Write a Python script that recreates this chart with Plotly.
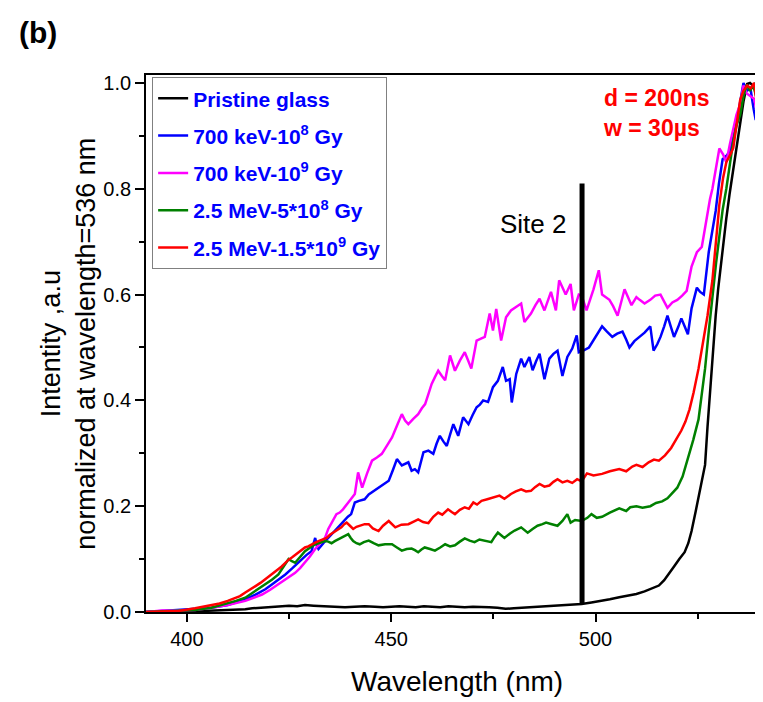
import plotly.graph_objects as go

# ---------------- data ----------------
wl_black = [390, 396, 400, 404, 408, 412, 414.3, 416, 418.4, 420, 422.4, 425, 427, 428.9, 431, 433.8, 436,
            438.7, 441, 443.5, 446, 448, 450, 452, 454, 456, 458, 460, 462, 464, 466, 468, 470, 472, 474, 476,
            478, 480, 482, 484, 486, 488, 490, 492, 494, 496.6, 499, 501.6, 503.5, 505.8, 508, 510, 512,
            514.3, 515.5, 516.8, 518.0, 519.3, 520.5, 521.8, 522.7, 523.5, 524.5, 525.6, 526.2, 526.8,
            527.4, 528.1, 528.8, 529.4, 530.0, 530.7, 531.3, 532.0, 532.8, 533.7, 534.5, 535.4, 536.2,
            537.1, 537.8, 538.5, 539.2, 540]
int_black = [0.0, 0.0, 0.001, 0.002, 0.003, 0.004, 0.005, 0.007, 0.008, 0.009, 0.011, 0.012, 0.011, 0.013,
             0.012, 0.011, 0.010, 0.009, 0.010, 0.011, 0.010, 0.009, 0.010, 0.011, 0.010, 0.009, 0.011, 0.010,
             0.009, 0.011, 0.010, 0.009, 0.010, 0.010, 0.009, 0.008, 0.006, 0.007, 0.008, 0.009, 0.010,
             0.011, 0.012, 0.013, 0.013, 0.015, 0.018, 0.021, 0.024, 0.028, 0.031, 0.034, 0.039, 0.047,
             0.050, 0.060, 0.072, 0.087, 0.100, 0.113, 0.130, 0.153, 0.190, 0.232, 0.255, 0.278, 0.350,
             0.429, 0.500, 0.560, 0.610, 0.660, 0.700, 0.744, 0.790, 0.837, 0.880, 0.922, 0.965, 0.998,
             1.0, 0.995, 1.0, 0.985]

wl_blue = [390, 394, 398, 402, 406, 410, 412, 414.3, 416.8, 419.2, 420.8, 422.4, 424.1, 425.7, 427.0, 428.1,
           429.3, 430.5, 431.0, 431.4, 431.8, 432.2, 433.4, 434.6, 435.8, 437.0, 437.8, 438.6, 439.4, 440.2,
           441.1, 442.1, 443.5, 444.5, 445.3, 446.9, 448.0, 449.4, 450.4, 451.4, 452.6, 453.4, 454.2, 455.0,
           455.8, 456.6, 457.9, 459.1, 460.3, 461.1, 461.9, 462.8, 463.6, 464.4, 465.2, 465.8, 466.4, 467.6,
           468.9, 469.9, 470.9, 471.7, 472.5, 473.7, 474.9, 476.1, 477.3, 478.1, 479.0, 479.5, 480.6, 481.8,
           482.6, 483.8, 484.6, 485.5, 486.3, 487.5, 488.7, 489.7, 490.7, 491.9, 493.1, 494.3, 495.4, 495.9,
           497.0, 498.4, 500.0, 501.6, 502.8, 504.1, 505.3, 506.6, 507.5, 508.3, 509.5, 510.8, 512.0, 513.4,
           514.2, 515.1, 515.9, 516.8, 517.6, 518.4, 519.2, 520.2, 521.0, 521.8, 522.6, 523.5, 524.8, 525.6,
           526.5, 527.7, 528.5, 529.4, 530.2, 531.1, 532.0, 532.8, 533.7, 534.5, 535.3, 536.2, 537.0, 537.9,
           538.7, 539.2, 539.6, 540]
int_blue = [0.0, 0.002, 0.003, 0.005, 0.008, 0.013, 0.018, 0.024, 0.033, 0.043, 0.052, 0.061, 0.071, 0.082,
            0.092, 0.100, 0.108, 0.115, 0.130, 0.140, 0.125, 0.119, 0.130, 0.140, 0.150, 0.160, 0.168, 0.175,
            0.180, 0.185, 0.207, 0.210, 0.213, 0.222, 0.226, 0.235, 0.240, 0.248, 0.268, 0.289, 0.277, 0.280,
            0.283, 0.267, 0.270, 0.264, 0.302, 0.305, 0.299, 0.318, 0.333, 0.322, 0.314, 0.335, 0.355, 0.344,
            0.333, 0.368, 0.355, 0.372, 0.387, 0.392, 0.400, 0.397, 0.425, 0.437, 0.463, 0.437, 0.440, 0.396,
            0.450, 0.479, 0.463, 0.482, 0.457, 0.475, 0.488, 0.440, 0.479, 0.488, 0.494, 0.446, 0.482, 0.498,
            0.523, 0.491, 0.494, 0.500, 0.520, 0.540, 0.530, 0.520, 0.526, 0.530, 0.515, 0.500, 0.512, 0.520,
            0.528, 0.540, 0.494, 0.506, 0.520, 0.540, 0.560, 0.540, 0.520, 0.538, 0.555, 0.540, 0.525, 0.574,
            0.613, 0.605, 0.600, 0.680, 0.720, 0.758, 0.810, 0.856, 0.862, 0.870, 0.900, 0.922, 0.960, 1.0,
            0.985, 0.990, 0.950, 0.930, 0.960, 0.900]

wl_magenta = [390, 394, 398, 402, 406, 410, 414.3, 416.5, 418.4, 420.4, 422.4, 424.5, 426.5, 427.7, 428.9,
              430.1, 431.4, 432.6, 433.8, 434.6, 435.6, 436.6, 437.4, 438.2, 439.5, 440.3, 441.1, 441.9, 442.3,
              442.9, 444.1, 445.3, 446.5, 447.7, 449.0, 450.2, 451.4, 452.6, 453.4, 454.2, 455.4, 456.6, 457.5,
              458.3, 459.1, 459.9, 460.7, 461.5, 462.4, 463.2, 464.4, 465.6, 466.8, 468.0, 468.8, 469.6, 470.9,
              471.9, 472.9, 474.1, 474.9, 475.7, 476.3, 476.9, 477.5, 478.1, 479.3, 480.5, 481.8, 482.6, 483.4,
              484.2, 485.3, 486.3, 487.5, 489.1, 490.3, 491.1, 492.0, 492.7, 493.9, 494.7, 495.9, 496.6, 497.8,
              499.5, 500.8, 501.6, 503.4, 504.3, 505.4, 507.1, 508.8, 510.0, 510.8, 512.0, 513.4, 514.6, 515.9,
              517.6, 518.8, 520.0, 521.2, 522.3, 523.5, 524.8, 526.0, 526.7, 527.4, 528.0, 528.6, 529.5, 530.3,
              531.2, 532.0, 532.9, 533.7, 534.5, 535.4, 536.2, 537.0, 537.9, 538.8, 539.5, 540]
int_magenta = [0.0, 0.003, 0.003, 0.004, 0.008, 0.013, 0.021, 0.027, 0.033, 0.042, 0.052, 0.063, 0.074, 0.083,
               0.093, 0.105, 0.119, 0.130, 0.140, 0.157, 0.170, 0.185, 0.188, 0.194, 0.207, 0.214, 0.223, 0.264,
               0.250, 0.235, 0.262, 0.286, 0.292, 0.299, 0.315, 0.330, 0.352, 0.374, 0.362, 0.355, 0.365, 0.374,
               0.385, 0.393, 0.412, 0.431, 0.444, 0.456, 0.446, 0.438, 0.485, 0.456, 0.475, 0.491, 0.476, 0.460,
               0.513, 0.516, 0.520, 0.564, 0.532, 0.573, 0.540, 0.513, 0.535, 0.557, 0.570, 0.576, 0.583, 0.548,
               0.556, 0.564, 0.580, 0.592, 0.570, 0.605, 0.570, 0.627, 0.612, 0.600, 0.620, 0.570, 0.600, 0.598,
               0.570, 0.610, 0.646, 0.600, 0.590, 0.578, 0.560, 0.610, 0.580, 0.595, 0.590, 0.583, 0.590, 0.598,
               0.600, 0.575, 0.585, 0.590, 0.598, 0.607, 0.653, 0.680, 0.690, 0.720, 0.758, 0.780, 0.800, 0.840,
               0.876, 0.865, 0.850, 0.885, 0.916, 0.940, 0.960, 0.995, 0.980, 0.975, 0.970, 0.945, 0.920]

wl_green = [390, 394, 398, 402, 406, 410, 412, 414.3, 415.5, 416.8, 418, 419.2, 420.8, 422.4, 423.6, 424.9,
            425.7, 426.5, 427.7, 428.9, 430.2, 431.4, 432.6, 433.8, 434.6, 435.4, 436.2, 437.0, 438.2, 439.5,
            440.1, 440.7, 441.5, 442.3, 443.3, 444.5, 445.7, 446.9, 448.5, 450.2, 451.4, 452.6, 453.8, 455.0,
            455.8, 456.6, 457.4, 458.2, 459.5, 460.7, 462.0, 463.2, 464.4, 465.6, 466.8, 468.0, 469.2, 470.4,
            471.6, 472.9, 473.7, 474.5, 475.3, 476.1, 476.9, 477.7, 479.0, 480.2, 481.8, 482.6, 483.4, 484.6,
            485.8, 487.0, 487.9, 489.3, 490.7, 491.9, 493.1, 493.9, 495.0, 496.6, 498.0, 499.0, 500.3, 501.6,
            503.5, 505.8, 507.5, 508.5, 510.0, 511.5, 513.4, 514.8, 516.3, 517.6, 519.0, 520.0, 521.3, 522.6,
            523.9, 525.2, 526.0, 526.8, 527.7, 528.6, 529.5, 530.3, 531.1, 532.0, 532.9, 533.7, 534.5, 535.4,
            536.2, 537.0, 537.8, 538.6, 539.3, 540]
int_green = [0.0, 0.001, 0.002, 0.004, 0.008, 0.016, 0.021, 0.027, 0.033, 0.040, 0.046, 0.052, 0.061, 0.071,
             0.085, 0.100, 0.096, 0.093, 0.104, 0.115, 0.122, 0.128, 0.131, 0.134, 0.133, 0.130, 0.134, 0.137,
             0.142, 0.147, 0.140, 0.134, 0.130, 0.128, 0.132, 0.135, 0.130, 0.126, 0.128, 0.128, 0.122, 0.116,
             0.119, 0.120, 0.117, 0.113, 0.118, 0.122, 0.119, 0.116, 0.122, 0.128, 0.124, 0.126, 0.133, 0.139,
             0.135, 0.132, 0.137, 0.135, 0.133, 0.132, 0.142, 0.150, 0.145, 0.140, 0.148, 0.154, 0.160, 0.155,
             0.150, 0.157, 0.163, 0.166, 0.169, 0.166, 0.163, 0.172, 0.185, 0.169, 0.174, 0.172, 0.178, 0.185,
             0.178, 0.180, 0.188, 0.196, 0.191, 0.198, 0.200, 0.197, 0.200, 0.206, 0.209, 0.215, 0.226, 0.235,
             0.256, 0.290, 0.325, 0.364, 0.410, 0.460, 0.530, 0.600, 0.660, 0.710, 0.760, 0.800, 0.850, 0.890,
             0.920, 0.940, 0.975, 0.997, 0.985, 0.995, 0.975, 0.962]

wl_red = [390, 394, 398, 402, 406, 408, 410, 412, 413, 414.3, 415.5, 416.8, 418, 419.2, 420, 420.8, 422.4,
          423.2, 424.1, 424.9, 425.7, 426.5, 427.3, 428.1, 428.9, 429.7, 430.5, 431.4, 432.2, 433.0, 434.2,
          435.0, 435.8, 436.6, 437.8, 438.5, 439.1, 439.9, 440.7, 441.5, 442.3, 443.5, 444.5, 445.5, 446.9,
          448.0, 449.4, 450.2, 451.0, 452.5, 454.2, 455.5, 456.6, 457.8, 459.1, 460.3, 461.5, 462.5, 463.9,
          464.8, 465.6, 466.8, 468.0, 469.0, 470.1, 471.0, 472.1, 473.5, 475.3, 476.5, 477.7, 478.5, 479.3,
          480.5, 481.8, 483.0, 484.2, 485.2, 486.3, 487.5, 488.7, 489.7, 490.7, 491.9, 493.1, 494.3, 495.5,
          496.6, 497.9, 499.5, 501.6, 503.5, 505.8, 507.5, 509.0, 510.0, 511.5, 513.0, 514.3, 515.5, 517.0,
          518.5, 519.8, 521.0, 522.0, 523.0, 524.0, 525.2, 526.3, 527.4, 528.6, 529.5, 530.3, 531.2, 532.0,
          533.0, 533.7, 534.5, 535.4, 536.2, 537.1, 538.0, 538.8, 539.3, 540]
int_red = [0.0, 0.001, 0.002, 0.007, 0.013, 0.016, 0.021, 0.026, 0.030, 0.037, 0.042, 0.049, 0.055, 0.062,
           0.066, 0.071, 0.080, 0.086, 0.093, 0.099, 0.103, 0.108, 0.112, 0.118, 0.122, 0.124, 0.128, 0.131,
           0.134, 0.137, 0.140, 0.146, 0.150, 0.155, 0.160, 0.166, 0.169, 0.163, 0.157, 0.161, 0.163, 0.166,
           0.166, 0.158, 0.153, 0.163, 0.172, 0.166, 0.160, 0.165, 0.166, 0.171, 0.175, 0.170, 0.168, 0.180,
           0.188, 0.184, 0.194, 0.189, 0.185, 0.193, 0.198, 0.195, 0.207, 0.203, 0.210, 0.213, 0.217, 0.220,
           0.214, 0.219, 0.223, 0.228, 0.232, 0.228, 0.229, 0.236, 0.242, 0.237, 0.239, 0.246, 0.251, 0.245,
           0.248, 0.244, 0.251, 0.247, 0.262, 0.258, 0.261, 0.266, 0.270, 0.266, 0.275, 0.278, 0.274, 0.283,
           0.288, 0.286, 0.296, 0.310, 0.326, 0.343, 0.360, 0.383, 0.415, 0.460, 0.510, 0.560, 0.627, 0.700,
           0.770, 0.820, 0.850, 0.865, 0.877, 0.920, 0.968, 0.985, 0.995, 0.990, 1.0, 0.970, 0.955]

series_names = ["<b>Pristine glass</b>",
                "<b>700 keV-10<sup>8</sup> Gy</b>",
                "<b>700 keV-10<sup>9</sup> Gy</b>",
                "<b>2.5 MeV-5*10<sup>8</sup> Gy</b>",
                "<b>2.5 MeV-1.5*10<sup>9</sup> Gy</b>"]
series_colors = ["#000000", "#0000FF", "#FF00FF", "#008000", "#FF0000"]

site_wl = [496.7, 496.7]
site_int = [0.015, 0.81]

x_ticks = [400, 450, 500]
y_ticks = [0.0, 0.2, 0.4, 0.6, 0.8, 1.0]

# ---------------- figure ----------------
FONT = "Liberation Sans, Arial, sans-serif"

fig = go.Figure()
xs = [wl_black, wl_blue, wl_magenta, wl_green, wl_red]
ys = [int_black, int_blue, int_magenta, int_green, int_red]
for i, (xv, yv) in enumerate(zip(xs, ys)):
    fig.add_trace(go.Scatter(x=xv, y=yv, mode="lines", name=series_names[i],
                             legendgroup=f"g{i}",
                             line=dict(color=series_colors[i], width=2.5)))

fig.add_trace(go.Scatter(x=site_wl, y=site_int, mode="lines", showlegend=False,
                         line=dict(color="black", width=5)))

# the page body has an 8px margin, so the figure is 8px smaller and margins are shifted
fig.update_layout(
    width=755, height=694,
    margin=dict(l=138, r=2, t=67, b=90),
    paper_bgcolor="white", plot_bgcolor="white",
    font=dict(family=FONT, color="black", size=20),
    showlegend=True,
    legend=dict(x=0.01, y=0.996, xanchor="left", yanchor="top",
                bgcolor="rgba(255,255,255,0)", bordercolor="#808080", borderwidth=1,
                font=dict(family=FONT, size=21, color="#0000FF"),
                tracegroupgap=7, itemwidth=30),
)

fig.update_xaxes(range=[390, 540], tickvals=x_ticks, ticks="outside", ticklen=8, tickwidth=1.5,
                 tickcolor="black", showline=True, linecolor="black", linewidth=1.8, mirror=True,
                 showgrid=False, zeroline=False, tickfont=dict(size=20, family=FONT),
                 minor=dict(tickvals=[425, 475, 525], ticks="outside", ticklen=5, tickwidth=1.5,
                            tickcolor="black"))
fig.update_yaxes(range=[0, 1.015], tickvals=y_ticks, tickformat=".1f", ticks="outside", ticklen=9,
                 tickwidth=1.5, tickcolor="black", showline=True, linecolor="black", linewidth=1.8,
                 mirror=True, showgrid=False, zeroline=False, tickfont=dict(size=20, family=FONT),
                 minor=dict(tickvals=[0.1, 0.3, 0.5, 0.7, 0.9], ticks="outside", ticklen=5,
                            tickwidth=1.5, tickcolor="black"))

fig.add_annotation(text="Wavelength (nm)", xref="paper", yref="paper", x=0.507, y=-0.13,
                   showarrow=False, font=dict(family=FONT, size=28), xanchor="center", yanchor="middle")
fig.add_annotation(text="Intentity ,a.u<br>normalized at wavelength=536 nm", xref="paper", yref="paper",
                   x=-0.127, y=0.5, textangle=-90, showarrow=False,
                   font=dict(family=FONT, size=27), xanchor="center", yanchor="middle")
fig.add_annotation(text="Site 2", x=484.9, y=0.733, xref="x", yref="y", showarrow=False,
                   font=dict(family=FONT, size=26), xanchor="center", yanchor="middle")
fig.add_annotation(text="<b>d = 200ns</b><br><b>w = 30µs</b>", x=501.3, y=0.943, xref="x", yref="y",
                   showarrow=False, align="left", font=dict(family=FONT, size=23, color="#FF0000"),
                   xanchor="left", yanchor="middle")
fig.add_annotation(text="<b>(b)</b>", xref="paper", yref="paper", x=-0.21, y=1.08, showarrow=False,
                   font=dict(family=FONT, size=30), xanchor="left", yanchor="middle")

fig.write_html("out.html")
